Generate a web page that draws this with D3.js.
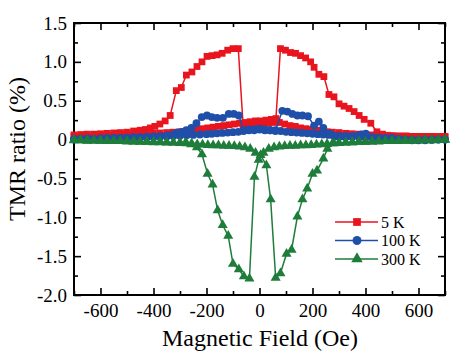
<!DOCTYPE html>
<html><head><meta charset="utf-8">
<script src="https://cdn.jsdelivr.net/npm/d3@7/dist/d3.min.js"></script>
</head><body style="margin:0">
<script>
// ---------- data ----------
const xTicks = [-600,-400,-200,0,200,400,600];
const yTicks = [1.5,1.0,0.5,0,-0.5,-1.0,-1.5,-2.0];
const yTickLabels = ["1.5","1.0","0.5","0","-0.5","-1.0","-1.5","-2.0"];
const seriesNames = ["5 K","100 K","300 K"];

// 5 K, two field sweeps (each as [field, TMR])
const red_sweepA = [[-700,0.06],[-675,0.065],[-650,0.07],[-625,0.07],[-600,0.075],[-575,0.08],[-550,0.085],[-525,0.09],[-500,0.095],[-475,0.11],[-450,0.12],[-430,0.13],[-412,0.15],[-395,0.17],[-376,0.2],[-356,0.24],[-337,0.31],[-314,0.63],[-295,0.67],[-276,0.83],[-255,0.87],[-236,0.94],[-217,1.0],[-198,1.07],[-179,1.08],[-160,1.09],[-141,1.11],[-120,1.15],[-100,1.17],[-80,1.17],[-62,0.19],[-45,0.19],[-25,0.19],[-5,0.2],[15,0.2],[35,0.21],[55,0.22],[75,0.22],[95,0.2],[115,0.18],[135,0.17],[155,0.15],[175,0.14],[195,0.13],[215,0.12],[235,0.11],[255,0.1],[275,0.095],[300,0.09],[325,0.08],[350,0.075],[375,0.07],[400,0.065],[425,0.06],[450,0.055],[475,0.05],[500,0.05],[525,0.045],[550,0.045],[575,0.04],[600,0.04],[625,0.04],[650,0.04],[675,0.035],[700,0.035]];
const red_sweepB = [[-700,0.04],[-675,0.04],[-650,0.045],[-625,0.045],[-600,0.05],[-575,0.05],[-550,0.055],[-525,0.06],[-500,0.06],[-475,0.065],[-450,0.07],[-425,0.075],[-400,0.08],[-375,0.085],[-350,0.09],[-325,0.095],[-300,0.1],[-275,0.11],[-255,0.12],[-235,0.13],[-215,0.14],[-195,0.15],[-175,0.16],[-155,0.17],[-135,0.18],[-115,0.19],[-95,0.2],[-75,0.21],[-55,0.22],[-35,0.23],[-15,0.24],[5,0.24],[25,0.25],[45,0.26],[62,0.27],[79,1.17],[98,1.15],[117,1.12],[136,1.11],[155,1.08],[174,1.05],[193,1.0],[206,0.93],[224,0.84],[243,0.81],[262,0.58],[281,0.55],[300,0.46],[319,0.43],[338,0.4],[357,0.36],[376,0.31],[395,0.26],[420,0.21],[443,0.1],[464,0.07],[483,0.055],[508,0.046],[530,0.045],[555,0.045],[580,0.04],[605,0.04],[630,0.04],[655,0.04],[680,0.04],[700,0.04]];

// 100 K
const blue_sweepA = [[-700,0.01],[-675,0.01],[-650,0.015],[-625,0.01],[-600,0.015],[-575,0.02],[-550,0.02],[-525,0.02],[-500,0.025],[-475,0.03],[-450,0.03],[-425,0.035],[-400,0.04],[-375,0.045],[-350,0.05],[-330,0.06],[-312,0.09],[-295,0.1],[-276,0.12],[-257,0.15],[-238,0.21],[-218,0.29],[-198,0.31],[-180,0.29],[-160,0.28],[-138,0.28],[-116,0.33],[-97,0.33],[-78,0.31],[-60,0.12],[-40,0.13],[-20,0.13],[0,0.14],[20,0.13],[40,0.12],[60,0.12],[80,0.11],[100,0.1],[120,0.095],[140,0.09],[160,0.085],[180,0.08],[200,0.075],[220,0.07],[240,0.065],[260,0.06],[280,0.05],[300,0.045],[325,0.04],[350,0.035],[375,0.03],[400,0.025],[425,0.02],[450,0.015],[475,0.01],[500,0.01],[525,0.005],[550,0.0],[575,0.0],[600,-0.005],[625,0.0],[650,0.0],[675,0.0],[700,0.0]];
const blue_sweepB = [[-700,0.0],[-675,0.005],[-650,0.0],[-625,0.005],[-600,0.01],[-575,0.01],[-550,0.015],[-525,0.015],[-500,0.02],[-475,0.02],[-450,0.025],[-425,0.03],[-400,0.03],[-375,0.035],[-350,0.04],[-325,0.045],[-300,0.05],[-275,0.055],[-250,0.06],[-225,0.065],[-200,0.07],[-180,0.075],[-160,0.08],[-140,0.085],[-120,0.09],[-100,0.095],[-80,0.1],[-60,0.11],[-40,0.12],[-20,0.12],[0,0.13],[20,0.12],[40,0.12],[60,0.11],[86,0.37],[105,0.36],[124,0.33],[143,0.31],[162,0.31],[183,0.3],[206,0.18],[224,0.23],[241,0.15],[266,0.077],[288,0.04],[310,0.04],[330,0.04],[350,0.045],[370,0.055],[385,0.065],[401,0.077],[427,0.03],[450,0.025],[475,0.02],[500,0.02],[525,0.01],[550,0.0],[575,-0.01],[600,-0.01],[625,-0.01],[650,-0.005],[675,0.0],[700,0.0]];

// 300 K
const green_sweepA = [[-700,-0.01],[-675,-0.01],[-650,-0.015],[-625,-0.01],[-600,-0.015],[-575,-0.015],[-550,-0.02],[-525,-0.02],[-500,-0.02],[-475,-0.025],[-450,-0.025],[-425,-0.03],[-400,-0.03],[-375,-0.03],[-350,-0.035],[-325,-0.04],[-300,-0.04],[-280,-0.045],[-258,-0.06],[-236,-0.1],[-217,-0.19],[-196,-0.44],[-177,-0.58],[-158,-0.91],[-139,-1.1],[-118,-1.24],[-100,-1.6],[-78,-1.67],[-59,-1.76],[-38,-1.79],[-19,-0.48],[-3,-0.26],[15,-0.17],[35,-0.12],[55,-0.1],[75,-0.09],[95,-0.085],[115,-0.08],[135,-0.08],[155,-0.075],[175,-0.075],[195,-0.07],[215,-0.065],[235,-0.06],[255,-0.055],[275,-0.05],[300,-0.045],[325,-0.04],[350,-0.035],[375,-0.03],[400,-0.03],[425,-0.025],[450,-0.025],[475,-0.02],[500,-0.02],[525,-0.02],[550,-0.015],[575,-0.015],[600,-0.01],[625,-0.01],[650,-0.01],[675,-0.005],[700,-0.005]];
const green_sweepB = [[-700,-0.005],[-675,-0.01],[-650,-0.01],[-625,-0.015],[-600,-0.015],[-575,-0.02],[-550,-0.02],[-525,-0.02],[-500,-0.025],[-475,-0.025],[-450,-0.03],[-425,-0.03],[-400,-0.035],[-375,-0.035],[-350,-0.04],[-325,-0.04],[-300,-0.045],[-275,-0.05],[-255,-0.055],[-235,-0.06],[-215,-0.065],[-195,-0.07],[-175,-0.075],[-155,-0.075],[-135,-0.08],[-115,-0.08],[-95,-0.085],[-75,-0.09],[-55,-0.1],[-35,-0.12],[-15,-0.17],[4,-0.2],[26,-0.33],[42,-0.77],[61,-1.78],[79,-1.72],[102,-1.47],[121,-1.42],[143,-0.99],[162,-0.77],[180,-0.63],[200,-0.44],[217,-0.4],[241,-0.245],[256,-0.12],[281,-0.05],[300,-0.045],[325,-0.04],[350,-0.035],[375,-0.03],[400,-0.03],[425,-0.025],[450,-0.02],[475,-0.02],[500,-0.015],[525,-0.015],[550,-0.01],[575,-0.01],[600,-0.01],[625,-0.005],[650,-0.005],[675,0.0],[700,0.0]];

// ---------- chart ----------
const FONT = `"Liberation Serif"`;
const W = 467, H = 355;
const m = {left:74, right:445, top:23, bottom:295};
const colors = ["#e8141e","#1f4fa8","#1e7d3a"];
const svg = d3.select("body").append("svg").attr("width",W).attr("height",H)
  .style("font-family",FONT);
const x = d3.scaleLinear().domain([-700,700]).range([m.left,m.right]);
const y = d3.scaleLinear().domain([-2,1.5]).range([m.bottom,m.top]);

const minorX = d3.range(-700,701,100).filter(v=>!xTicks.includes(v));
const minorY = d3.range(-2,1.51,0.25).map(v=>+v.toFixed(2)).filter(v=>!yTicks.includes(v));

function axis(gen, transform, ticks, size, labels){
  const g = svg.append("g").attr("transform",transform)
    .call(gen.tickValues(ticks).tickSize(size).tickPadding(6).tickFormat(labels));
  g.attr("font-family",null).attr("font-size",null).style("font-family",FONT);
  g.select(".domain").remove();
  g.selectAll(".tick line").attr("stroke","#000").attr("stroke-width",1.6);
  g.selectAll("text").style("font-family",FONT).attr("fill","#000");
  return g;
}
const gx = axis(d3.axisBottom(x), `translate(0,${m.bottom})`, xTicks, -7, d=>String(d));
gx.selectAll("text").attr("font-size",19).attr("dy","0.71em").attr("y",9);
axis(d3.axisBottom(x), `translate(0,${m.bottom})`, minorX, -4, ()=>"");
axis(d3.axisTop(x), `translate(0,${m.top})`, xTicks, -7, ()=>"");
axis(d3.axisTop(x), `translate(0,${m.top})`, minorX, -4, ()=>"");
const gy = axis(d3.axisLeft(y), `translate(${m.left},0)`, yTicks, -7, (d,i)=>yTickLabels[i]);
gy.selectAll("text").attr("font-size",19).attr("x",-7);
axis(d3.axisLeft(y), `translate(${m.left},0)`, minorY, -4, ()=>"");
axis(d3.axisRight(y), `translate(${m.right},0)`, yTicks, -7, ()=>"");
axis(d3.axisRight(y), `translate(${m.right},0)`, minorY, -4, ()=>"");

// frame
svg.append("rect").attr("x",m.left).attr("y",m.top)
  .attr("width",m.right-m.left).attr("height",m.bottom-m.top)
  .attr("fill","none").attr("stroke","#000").attr("stroke-width",2);

// axis titles
svg.append("text").attr("x",260).attr("y",346).attr("text-anchor","middle")
  .attr("font-size",24).style("font-family",FONT).text("Magnetic Field (Oe)");
svg.append("text").attr("transform","translate(25,149) rotate(-90)")
  .attr("text-anchor","middle").attr("font-size",24).style("font-family",FONT).text("TMR ratio (%)");

const line = d3.line().x(d=>x(d[0])).y(d=>y(d[1]));
const plot = svg.append("g");

const sym = [d3.symbolSquare, d3.symbolCircle, d3.symbolTriangle];
const symSize = [46, 48, 44];
const groups = [[red_sweepA,red_sweepB],[blue_sweepA,blue_sweepB],[green_sweepA,green_sweepB]];
groups.forEach((sw,i)=>{
  sw.forEach(data=>{
    plot.append("path").attr("d",line(data)).attr("fill","none")
      .attr("stroke",colors[i]).attr("stroke-width",1.5);
  });
  sw.forEach(data=>{
    plot.selectAll(null).data(data).enter().append("path")
      .attr("d",d3.symbol().type(sym[i]).size(symSize[i]))
      .attr("transform",d=>`translate(${x(d[0])},${y(d[1])})`)
      .attr("fill",colors[i]);
  });
});

// legend
const leg = svg.append("g");
seriesNames.forEach((n,i)=>{
  const yy = 222 + i*18.5;
  leg.append("line").attr("x1",335).attr("x2",378).attr("y1",yy).attr("y2",yy)
    .attr("stroke",colors[i]).attr("stroke-width",1.5);
  leg.append("path").attr("d",d3.symbol().type(sym[i]).size(symSize[i]*1.3)())
    .attr("transform",`translate(357,${yy})`).attr("fill",colors[i]);
  leg.append("text").attr("x",381).attr("y",yy).attr("dy","0.35em")
    .attr("font-size",16).style("font-family",FONT).text(n);
});
</script>
</body></html>
